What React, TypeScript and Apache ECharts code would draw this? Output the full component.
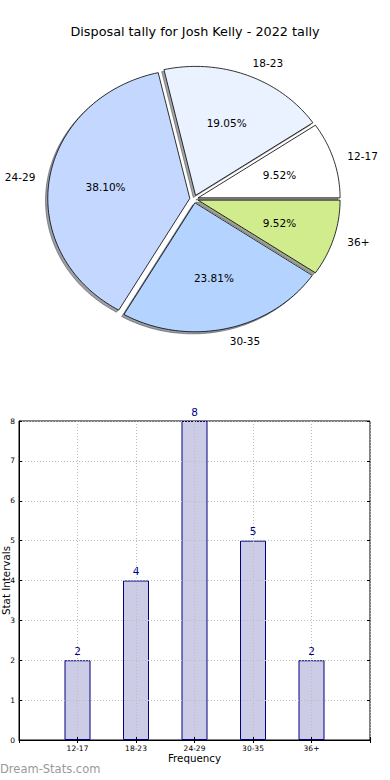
import React, { useEffect, useRef } from "react";
import * as echarts from "echarts";

const categories = ["12-17", "18-23", "24-29", "30-35", "36+"];
const counts = [2, 4, 8, 5, 2];
const pieColors = ["#ffffff", "#eaf2ff", "#c4d8ff", "#b4d4ff", "#d0ec8c"];
const yTicks = { min: 0, max: 8, interval: 1 };
const titleText = "Disposal tally for Josh Kelly - 2022 tally";

const FONT = '"DejaVu Sans", "Liberation Sans", sans-serif';
const CX = 194;
const CY = 199;
const RX = 142;
const RY = 129;
const EXPLODE = 0.03;
const SHADOW = 0.016;

function shadowOf(hex: string) {
  const n = parseInt(hex.slice(1), 16);
  const r = Math.round(((n >> 16) & 255) * 0.3);
  const g = Math.round(((n >> 8) & 255) * 0.3);
  const b = Math.round((n & 255) * 0.3);
  return `rgba(${r},${g},${b},0.5)`;
}

function renderSlice(params: any, api: any) {
  const i = params.dataIndex;
  const value = api.value(0);
  const total = counts.reduce((a, b) => a + b, 0);
  let start = 0;
  for (let k = 0; k < i; k++) start += counts[k];
  const a0 = (start / total) * Math.PI * 2;
  const a1 = ((start + value) / total) * Math.PI * 2;
  const mid = (a0 + a1) / 2;
  const ox = CX + EXPLODE * RX * Math.cos(mid);
  const oy = CY - EXPLODE * RY * Math.sin(mid);
  const pts: number[][] = [[ox, oy]];
  const n = Math.max(10, Math.ceil((a1 - a0) / (Math.PI / 120)));
  for (let j = 0; j <= n; j++) {
    const a = a0 + ((a1 - a0) * j) / n;
    pts.push([ox + RX * Math.cos(a), oy - RY * Math.sin(a)]);
  }
  const sPts = pts.map(([x, y]) => [x - SHADOW * RX, y + SHADOW * RY]);
  const sc = shadowOf(pieColors[i]);
  const c = Math.cos(mid);
  const s = Math.sin(mid);
  const lx = ox + 1.1 * RX * c;
  const ly = oy - 1.1 * RY * s;
  const px = ox + 0.6 * RX * c;
  const py = oy - 0.6 * RY * s;
  const pct = ((value / total) * 100).toFixed(2) + "%";
  const align = c >= 0 ? "left" : "right";
  return {
    type: "group",
    children: [
      {
        type: "polygon",
        shape: { points: sPts },
        style: { fill: sc, stroke: sc, lineWidth: 1 },
      },
      {
        type: "polygon",
        shape: { points: pts },
        style: { fill: pieColors[i], stroke: "#000", lineWidth: 0.8 },
      },
      {
        type: "text",
        z2: 100,
        style: {
          text: categories[i],
          x: lx,
          y: ly,
          fill: "#000",
          fontSize: 10.5,
          fontFamily: FONT,
          align,
          textAlign: align,
          verticalAlign: "middle",
          textVerticalAlign: "middle",
        },
      },
      {
        type: "text",
        z2: 100,
        style: {
          text: pct,
          x: px,
          y: py,
          fill: "#000",
          fontSize: 10.5,
          fontFamily: FONT,
          align: "center",
          textAlign: "center",
          verticalAlign: "middle",
          textVerticalAlign: "middle",
        },
      },
    ],
  };
}

export default function App() {
  const ref = useRef<HTMLDivElement>(null);
  useEffect(() => {
    if (!ref.current) return;
    const chart = echarts.init(ref.current, null, { renderer: "svg" });
    const xCats = ["", ...categories, ""];
    const barData = [null, ...counts, null];
    const gridLine = { show: true, lineStyle: { color: "#bcbcbc", type: [1, 2], width: 1 } };
    chart.setOption({
      animation: false,
      backgroundColor: "#ffffff",
      title: {
        text: titleText,
        left: "center",
        top: 20,
        textStyle: { fontSize: 12.8, fontWeight: "normal", color: "#000", fontFamily: FONT },
      },
      graphic: [
        {
          type: "text",
          left: 0,
          top: 763,
          style: { text: "Dream-Stats.com", fill: "#999999", font: `11.5px ${FONT}` },
        },
      ],
      grid: {
        left: 19,
        right: 20,
        top: 421,
        bottom: 40,
        containLabel: false,
        outerBoundsMode: "none",
        show: true,
        borderColor: "#000",
        borderWidth: 1,
        backgroundColor: "transparent",
      },
      xAxis: [
        {
          type: "category",
          data: xCats,
          boundaryGap: false,
          z: 10,
          axisLine: { show: true, lineStyle: { color: "#000", width: 1 } },
          axisTick: { show: true, inside: true, length: 3, lineStyle: { color: "#000" } },
          axisLabel: { fontSize: 7.5, color: "#000", margin: 4, fontFamily: FONT },
          splitLine: gridLine,
          name: "Frequency",
          nameLocation: "middle",
          nameGap: 13,
          nameMoveOverlap: false,
          nameTextStyle: { fontSize: 10.3, color: "#000", fontFamily: FONT },
        },
        {
          type: "category",
          data: xCats,
          boundaryGap: false,
          position: "top",
          z: 10,
          axisLine: { show: false },
          axisTick: { show: true, inside: true, length: 3, lineStyle: { color: "#000" } },
          axisLabel: { show: false },
          splitLine: { show: false },
        },
      ],
      yAxis: [
        {
          type: "value",
          min: yTicks.min,
          max: yTicks.max,
          interval: yTicks.interval,
          z: 10,
          axisLine: { show: true, lineStyle: { color: "#000", width: 1 } },
          axisTick: { show: true, inside: true, length: 3, lineStyle: { color: "#000" } },
          axisLabel: { fontSize: 7.5, color: "#000", margin: 4, fontFamily: FONT },
          splitLine: gridLine,
          name: "Stat Intervals",
          nameLocation: "middle",
          nameRotate: 90,
          nameGap: 8,
          nameMoveOverlap: false,
          nameTextStyle: { fontSize: 10.3, color: "#000", fontFamily: FONT },
        },
        {
          type: "value",
          min: yTicks.min,
          max: yTicks.max,
          interval: yTicks.interval,
          position: "right",
          z: 10,
          axisLine: { show: false },
          axisTick: { show: true, inside: true, length: 3, lineStyle: { color: "#000" } },
          axisLabel: { show: false },
          splitLine: { show: false },
        },
      ],
      series: [
        {
          type: "custom",
          coordinateSystem: "none",
          renderItem: renderSlice,
          data: counts.map((v) => [v]),
          silent: true,
        },
        {
          type: "bar",
          xAxisIndex: 0,
          yAxisIndex: 0,
          data: barData,
          barWidth: 26,
          itemStyle: { color: "#ccccE6", borderColor: "#000080", borderWidth: 1 },
          label: {
            show: true,
            position: "top",
            distance: 4,
            color: "#000080",
            fontSize: 10.5,
            fontFamily: FONT,
          },
        },
      ],
    });
    return () => chart.dispose();
  }, []);
  return (
    <div
      ref={ref}
      style={{ position: "absolute", left: 0, top: 0, width: 390, height: 780 }}
    />
  );
}
